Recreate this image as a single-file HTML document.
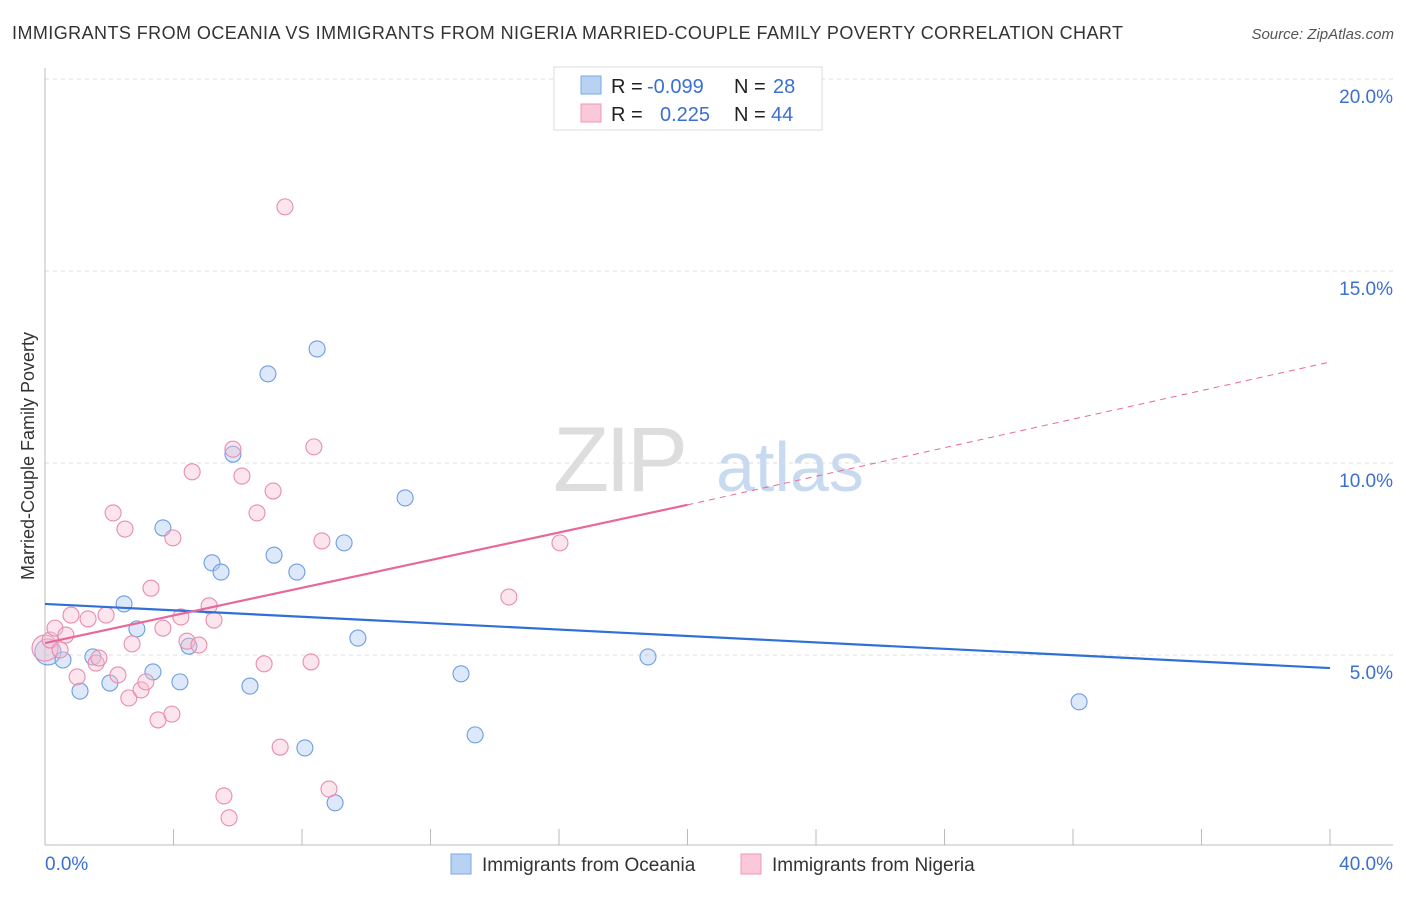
<!DOCTYPE html>
<html><head><meta charset="utf-8"><style>
body{margin:0;background:#fff;font-family:"Liberation Sans",sans-serif;}
svg text{font-family:"Liberation Sans",sans-serif;}
</style></head><body>
<svg id="chart" width="1406" height="892" xmlns="http://www.w3.org/2000/svg">
<text x="12" y="39" font-size="18" fill="#333" textLength="1111" lengthAdjust="spacing">IMMIGRANTS FROM OCEANIA VS IMMIGRANTS FROM NIGERIA MARRIED-COUPLE FAMILY POVERTY CORRELATION CHART</text>
<text x="1394" y="39" font-size="15" fill="#555" text-anchor="end" font-style="italic">Source: ZipAtlas.com</text>
<text transform="translate(34,456) rotate(-90)" font-size="18" fill="#333" text-anchor="middle">Married-Couple Family Poverty</text>
<g><text x="553" y="491" font-size="92" fill="#ddd" font-family="Liberation Serif" letter-spacing="-4">ZIP</text><text x="716" y="491" font-size="70" fill="#c8daf0">atlas</text></g>
<g id="grid"></g><g id="axes"></g><g id="marks"></g>
<g>
<rect x="554" y="67" width="268" height="63" fill="#fff" stroke="#ddd"/>
<rect x="581" y="76" width="20" height="18" fill="#b8d2f4" stroke="#7aa8e4"/>
<rect x="581" y="104" width="20" height="18" fill="#fac8d8" stroke="#ec98b4"/>
<text x="611" y="93" font-size="20" fill="#222">R = <tspan fill="#3b6fd0" x="647">-0.099</tspan></text>
<text x="734" y="93" font-size="20" fill="#222">N = <tspan fill="#3b6fd0" x="773">28</tspan></text>
<text x="611" y="121" font-size="20" fill="#222">R = <tspan fill="#3b6fd0" x="660">0.225</tspan></text>
<text x="734" y="121" font-size="20" fill="#222">N = <tspan fill="#3b6fd0" x="771">44</tspan></text>
</g>
<g>
<rect x="451" y="854" width="20" height="20" fill="#b8d2f4" stroke="#7aa8e4"/>
<text x="482" y="871" font-size="19" fill="#333">Immigrants from Oceania</text>
<rect x="741" y="854" width="20" height="20" fill="#fac8d8" stroke="#ec98b4"/>
<text x="772" y="871" font-size="19" fill="#333">Immigrants from Nigeria</text>
</g>
</svg>
<script>
const yTicks=[5,10,15,20];
const yTickLabels=["5.0%","10.0%","15.0%","20.0%"];
const xTicks=[0,4,8,12,16,20,24,28,32,36,40];
const xEndLabels=["0.0%","40.0%"];
const oceaniaX=[0.09,0.56,1.09,1.49,2.02,2.46,2.86,3.36,3.67,4.20,4.48,5.20,5.48,5.85,6.38,6.94,7.13,7.84,8.09,8.47,9.03,9.31,9.74,11.21,12.95,13.39,18.77,32.19];
const oceaniaY=[5.08,4.87,4.06,4.95,4.27,6.33,5.68,4.56,8.31,4.30,5.23,7.40,7.16,10.23,4.19,12.32,7.60,7.16,2.58,12.97,1.15,7.92,5.44,9.09,4.51,2.92,4.95,3.78];
const nigeriaX=[0.0,0.16,0.31,0.47,0.65,0.81,1.00,1.34,1.59,1.68,1.90,2.12,2.27,2.49,2.61,2.71,2.99,3.14,3.30,3.52,3.67,3.95,3.98,4.23,4.42,4.58,4.79,5.11,5.26,5.57,5.73,5.85,6.13,6.60,6.82,7.10,7.32,7.47,8.28,8.37,8.62,8.84,14.44,16.03];
const nigeriaY=[5.18,5.39,5.70,5.13,5.52,6.04,4.43,5.94,4.79,4.92,6.04,8.70,4.48,8.28,3.88,5.29,4.09,4.30,6.74,3.31,5.70,3.46,8.05,5.99,5.36,9.77,5.26,6.28,5.91,1.33,0.76,10.36,9.66,8.70,4.77,9.27,2.60,16.67,4.82,10.42,7.97,1.51,6.51,7.92];
const oceaniaTrend=[6.33,4.66];
const nigeriaTrend=[5.31,8.91,12.63];
const trendX=[0,20,40];
const NS="http://www.w3.org/2000/svg";
const sx=v=>45+v*32.125, sy=v=>847-v*38.4;
function mk(tag,a,p){const e=document.createElementNS(NS,tag);for(const k in a)e.setAttribute(k,a[k]);p.appendChild(e);return e;}
const grid=document.getElementById('grid'),axes=document.getElementById('axes'),marks=document.getElementById('marks');
yTicks.forEach((t,i)=>{
 const l=mk('line',{x1:45,x2:1393,y1:sy(t),y2:sy(t),stroke:'#ddd','stroke-dasharray':'4,4'},grid);
 
 
 const tx=mk('text',{x:1393,y:sy(t)+24,'font-size':19,fill:'#3b6fd0','text-anchor':'end'},axes);
 tx.textContent=yTickLabels[i];
 
 
});
mk('line',{x1:45,x2:45,y1:68,y2:845,stroke:'#bbb'},axes);
mk('line',{x1:45,x2:1393,y1:845,y2:845,stroke:'#bbb'},axes);
xTicks.forEach(t=>{
 const l=mk('line',{x1:sx(t),x2:sx(t),y1:829,y2:845,stroke:'#bbb'},axes);
 
 
});
const xl0=mk('text',{x:45,y:870,'font-size':19,fill:'#3b6fd0'},axes);xl0.textContent=xEndLabels[0];


const xl1=mk('text',{x:1393,y:870,'font-size':19,fill:'#3b6fd0','text-anchor':'end'},axes);xl1.textContent=xEndLabels[1];


function pts(X,Y,fill,stroke,name){X.forEach((x,i)=>{
 const c=mk('circle',{cx:sx(x),cy:sy(Y[i]),r:i===0?13:8,fill:fill,'fill-opacity':0.4,stroke:stroke,'stroke-width':1.1},marks);
 
 
});}
pts(oceaniaX,oceaniaY,'#a9c8f2','#6d9de0','oceania-point');
pts(nigeriaX,nigeriaY,'#f8bdd0','#e88cae','nigeria-point');
const bt=mk('line',{x1:sx(trendX[0]),y1:sy(oceaniaTrend[0]),x2:sx(trendX[2]),y2:sy(oceaniaTrend[1]),stroke:'#2f6fd6','stroke-width':2.2},marks);


const pt=mk('line',{x1:sx(trendX[0]),y1:sy(nigeriaTrend[0]),x2:sx(trendX[1]),y2:sy(nigeriaTrend[1]),stroke:'#e8689a','stroke-width':2.2},marks);


const pd=mk('line',{x1:sx(trendX[1]),y1:sy(nigeriaTrend[1]),x2:sx(trendX[2]),y2:sy(nigeriaTrend[2]),stroke:'#e8689a','stroke-width':1,'stroke-dasharray':'6,5'},marks);


</script>
</body></html>
